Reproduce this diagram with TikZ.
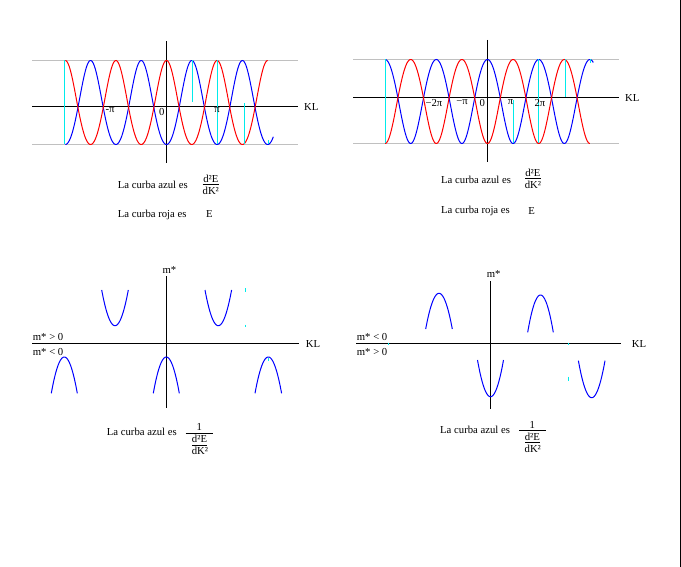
\documentclass[tikz,border=0pt]{standalone}
\usepackage{fontspec}
\setmainfont{Liberation Serif}
\definecolor{gline}{RGB}{192,192,192}
\definecolor{cmark}{RGB}{0,235,235}
\tikzset{
  txt/.style={inner sep=0pt, font=\fontsize{10.7}{12.8}\selectfont},
  axisline/.style={black, line width=1pt},
  refline/.style={gline, line width=1pt},
  bcurve/.style={blue, line width=1pt},
  rcurve/.style={red, line width=1pt},
  artefact/.style={cmark, line width=1pt},
  fracbar/.style={black, line width=0.9pt},
  border/.style={black, line width=1pt},
}
\begin{document}
\begin{tikzpicture}[x=1pt,y=-1pt]
\useasboundingbox (0,0) rectangle (681,567);

% ================= Panel 1 (top left) =================
\coordinate (g1tl) at (32,60.5);  \coordinate (g1tr) at (298,60.5);
\coordinate (g1bl) at (32,144.5); \coordinate (g1br) at (298,144.5);
\draw[refline] (g1tl) -- (g1tr);
\draw[refline] (g1bl) -- (g1br);
\coordinate (a1l) at (32,106.5);  \coordinate (a1r) at (298,106.5);
\coordinate (a1t) at (166.5,41.5); \coordinate (a1b) at (166.5,163.5);
\draw[axisline] (a1l) -- (a1r);
\draw[axisline] (a1t) -- (a1b);
\draw[bcurve] plot[domain=65.3:273.3,samples=400]
  (\x,{107.5+42*cos((\x-166.5)*7.1146)-5*cos((\x-166.5)*7.1146)*cos((\x-166.5)*7.1146)});
\draw[rcurve] plot[domain=65.3:267.7,samples=400]
  (\x,{107.5-42*cos((\x-166.5)*7.1146)-5*cos((\x-166.5)*7.1146)*cos((\x-166.5)*7.1146)});
\draw[artefact] (64.5,60.5) -- (64.5,144.5);
\draw[artefact] (192.5,60.5) -- (192.5,102);
\draw[artefact] (217.5,60.5) -- (217.5,144.5);
\draw[artefact] (244.5,103) -- (244.5,144.5);
\draw[artefact] (268.5,140) -- (268.5,144.5);
\node[txt,anchor=north] (l1mpi) at (110,107.8) {-π};
\node[txt,anchor=north] (l1zero) at (161.8,107.8) {0};
\node[txt,anchor=north] (l1pi) at (217,107.8) {π};
\node[txt,anchor=west] (kl1) at (304,106.5) {KL};
\node[txt,anchor=west] (t1a) at (117.7,184.5) {La curba azul es};
\node[txt] (f1n) at (210.8,179) {d²E};
\coordinate (f1bl) at (202.7,184.5); \coordinate (f1br) at (219,184.5);
\draw[fracbar] (f1bl) -- (f1br);
\node[txt] (f1d) at (210.8,190.7) {dK²};
\node[txt,anchor=west] (t1r) at (117.7,214.5) {La curba roja es};
\node[txt] (e1) at (209.5,214.3) {E};

% ================= Panel 2 (top right) =================
\coordinate (g2tl) at (353,59.5);  \coordinate (g2tr) at (619,59.5);
\coordinate (g2bl) at (353,143.5); \coordinate (g2br) at (619,143.5);
\draw[refline] (g2tl) -- (g2tr);
\draw[refline] (g2bl) -- (g2br);
\coordinate (a2l) at (353,97.5);  \coordinate (a2r) at (619,97.5);
\coordinate (a2t) at (487.5,40); \coordinate (a2b) at (487.5,162.5);
\draw[axisline] (a2l) -- (a2r);
\draw[axisline] (a2t) -- (a2b);
\draw[bcurve] plot[domain=385.1:593.3,samples=400]
  (\x,{98-42*cos((\x-487.5)*7.03125)+3.5*cos((\x-487.5)*7.03125)*cos((\x-487.5)*7.03125)});
\draw[rcurve] plot[domain=385.1:589.9,samples=400]
  (\x,{98+42*cos((\x-487.5)*7.03125)+3.5*cos((\x-487.5)*7.03125)*cos((\x-487.5)*7.03125)});
\draw[artefact] (385.5,59.5) -- (385.5,143.5);
\draw[artefact] (513.5,100) -- (513.5,143.5);
\draw[artefact] (538.5,59.5) -- (538.5,143.5);
\draw[artefact] (565.5,59.5) -- (565.5,97);
\draw[artefact] (590.5,59.5) -- (590.5,63);
\node[txt,anchor=north] (l2m2pi) at (434,99.3) {−2π};
\node[txt,anchor=north] (l2mpi) at (462,99.3) {−π};
\node[txt,anchor=north] (l2zero) at (482.3,99.3) {0};
\node[txt,anchor=north] (l2pi) at (510.5,99.3) {π};
\node[txt,anchor=north] (l2tpi) at (540,99.3) {2π};
\node[txt,anchor=west] (kl2) at (625,97.5) {KL};
\node[txt,anchor=west] (t2a) at (441,180) {La curba azul es};
\node[txt] (f2n) at (532.8,173.2) {d²E};
\coordinate (f2bl) at (525,178.7); \coordinate (f2br) at (541,178.7);
\draw[fracbar] (f2bl) -- (f2br);
\node[txt] (f2d) at (533,185) {dK²};
\node[txt,anchor=west] (t2r) at (441,210.7) {La curba roja es};
\node[txt] (e2) at (531.7,210.7) {E};

% ================= Panel 3 (bottom left) =================
\coordinate (a3l) at (32,343.5);  \coordinate (a3r) at (298.5,343.5);
\coordinate (a3t) at (166.5,276.5); \coordinate (a3b) at (166.5,407.5);
\draw[axisline] (a3l) -- (a3r);
\draw[axisline] (a3t) -- (a3b);
\draw[bcurve] plot[domain=-13.3:13.3,samples=40] ({115+\x},{325.7-35.7*\x*\x/176.89});
\draw[bcurve] plot[domain=-13.3:13.3,samples=40] ({218.3+\x},{325.7-35.7*\x*\x/176.89});
\draw[bcurve] plot[domain=-13:13,samples=40] ({64.3+\x},{357+36.3*\x*\x/169});
\draw[bcurve] plot[domain=-13:13,samples=40] ({166.3+\x},{357+36.3*\x*\x/169});
\draw[bcurve] plot[domain=-13.3:13.3,samples=40] ({268.3+\x},{357+36.3*\x*\x/176.89});
\draw[artefact] (245.5,288.5) -- (245.5,292);
\draw[artefact] (245.5,324.5) -- (245.5,326.5);
\draw[artefact] (268.5,357.5) -- (268.5,361);
\node[txt] (m3) at (169.5,269.7) {m*};
\node[txt,anchor=west] (kl3) at (305.7,343.5) {KL};
\node[txt,anchor=west] (s3p) at (32.7,337) {m* > 0};
\node[txt,anchor=west] (s3n) at (32.7,351.7) {m* < 0};
\node[txt,anchor=west] (t3a) at (106.7,432.3) {La curba azul es};
\node[txt] (f3o) at (199.2,427.2) {1};
\coordinate (f3bl) at (185.7,433); \coordinate (f3br) at (212.7,433);
\draw[fracbar] (f3bl) -- (f3br);
\node[txt] (f3n) at (199.5,439) {d²E};
\coordinate (f3il) at (192,445); \coordinate (f3ir) at (207,445);
\draw[fracbar] (f3il) -- (f3ir);
\node[txt] (f3d) at (200,451.2) {dK²};

% ================= Panel 4 (bottom right) =================
\coordinate (a4l) at (356,343.5);  \coordinate (a4r) at (621,343.5);
\coordinate (a4t) at (490.5,281.5); \coordinate (a4b) at (490.5,409);
\draw[axisline] (a4l) -- (a4r);
\draw[axisline] (a4t) -- (a4b);
\draw[bcurve] plot[domain=-13.3:13.3,samples=40] ({439+\x},{293.3+35.7*\x*\x/176.89});
\draw[bcurve] plot[domain=-12.8:12.8,samples=40] ({540.5+\x},{295+37.3*\x*\x/163.84});
\draw[bcurve] plot[domain=-13:13,samples=40] ({490.5+\x},{396.7-36.7*\x*\x/169});
\draw[bcurve] plot[domain=-13.3:13.3,samples=40] ({591.7+\x},{397.7-37*\x*\x/176.89});
\draw[artefact] (388.5,342.5) -- (388.5,344.5);
\draw[artefact] (568.5,342.5) -- (568.5,344.5);
\draw[artefact] (568.5,376.5) -- (568.5,381);
\node[txt] (m4) at (493.7,273.7) {m*};
\node[txt,anchor=west] (kl4) at (631.7,343.5) {KL};
\node[txt,anchor=west] (s4n) at (356.7,337) {m* < 0};
\node[txt,anchor=west] (s4p) at (356.7,351.7) {m* > 0};
\node[txt,anchor=west] (t4a) at (440,430) {La curba azul es};
\node[txt] (f4o) at (532.3,425) {1};
\coordinate (f4bl) at (519,430.7); \coordinate (f4br) at (545.7,430.7);
\draw[fracbar] (f4bl) -- (f4br);
\node[txt] (f4n) at (532.3,436.7) {d²E};
\coordinate (f4il) at (525,442.7); \coordinate (f4ir) at (540,442.7);
\draw[fracbar] (f4il) -- (f4ir);
\node[txt] (f4d) at (532.8,449) {dK²};

% right border
\coordinate (brt) at (680.5,0); \coordinate (brb) at (680.5,567);
\draw[border] (brt) -- (brb);
\end{tikzpicture}
\end{document}
